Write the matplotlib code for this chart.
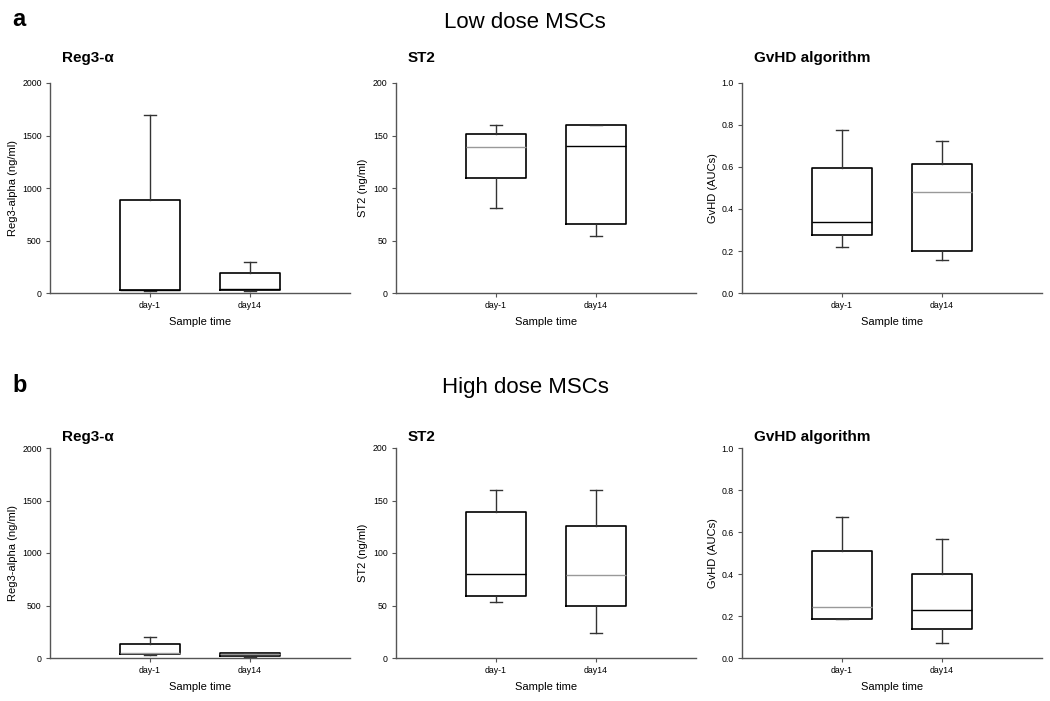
import matplotlib
matplotlib.use("Agg")
import matplotlib.pyplot as plt

plt.rcParams['font.family'] = ['Liberation Sans', 'DejaVu Sans']

categories = ["day-1", "day14"]
panel_titles = ["Reg3-\u03b1", "ST2", "GvHD algorithm"]
y_labels = ["Reg3-alpha (ng/ml)", "ST2 (ng/ml)", "GvHD (AUCs)"]
y_limits = [(0, 2000), (0, 200), (0, 1.0)]
y_ticks = [[0, 500, 1000, 1500, 2000], [0, 50, 100, 150, 200], [0.0, 0.2, 0.4, 0.6, 0.8, 1.0]]
y_ticklabels = [["0", "500", "1000", "1500", "2000"], ["0", "50", "100", "150", "200"],
                ["0.0", "0.2", "0.4", "0.6", "0.8", "1.0"]]
row_titles = ["Low dose MSCs", "High dose MSCs"]
row_letters = ["a", "b"]

# box statistics per category: [whislo, q1, med, q3, whishi]
low_reg3 = [[20, 25, 30, 890, 1700], [20, 30, 35, 190, 297]]
low_st2 = [[81, 110, 139, 151, 160], [54, 66, 140, 160, 160]]
low_gvhd = [[0.217, 0.275, 0.338, 0.594, 0.778], [0.157, 0.198, 0.479, 0.614, 0.725]]
high_reg3 = [[30, 38, 45, 133, 203], [10, 15, 35, 45, 50]]
high_st2 = [[53, 59, 80, 139, 160], [24, 50, 79, 126, 160]]
high_gvhd = [[0.184, 0.187, 0.244, 0.510, 0.672], [0.070, 0.136, 0.228, 0.398, 0.569]]

data = [[low_reg3, low_st2, low_gvhd], [high_reg3, high_st2, high_gvhd]]
median_colors = [[["black", "black"], ["#999999", "black"], ["black", "#999999"]],
                 [["#999999", "#999999"], ["black", "#999999"], ["#999999", "black"]]]

fig = plt.figure(figsize=(10.5, 7.01), dpi=100)

W, H = 1050.0, 701.0
lefts = [50, 396, 742]
tops = [83, 448]
bottoms = [293, 658]
title_y = [58, 437]
ylabel_x = [-0.107, -0.093, -0.08]
axw = 300

spine_col = "#555555"
for r in range(2):
    for c in range(3):
        ax = fig.add_axes([lefts[c] / W, 1 - bottoms[r] / H, axw / W, (bottoms[r] - tops[r]) / H])
        stats = []
        for i, s in enumerate(data[r][c]):
            stats.append(dict(whislo=s[0], q1=s[1], med=s[2], q3=s[3], whishi=s[4], label=categories[i]))
        bp = ax.bxp(stats, positions=[1, 2], widths=0.6, showfliers=False, capwidths=0.12,
                    boxprops=dict(color="black", linewidth=1.2),
                    whiskerprops=dict(color="#333333", linewidth=1.0),
                    capprops=dict(color="#333333", linewidth=1.0),
                    medianprops=dict(color="black", linewidth=1.0))
        for i, m in enumerate(bp['medians']):
            m.set_color(median_colors[r][c][i])
        ax.set_xlim(0, 3)
        ax.set_ylim(*y_limits[c])
        ax.set_yticks(y_ticks[c])
        ax.set_yticklabels(y_ticklabels[c])
        ax.set_xticks([1, 2])
        ax.set_xticklabels(categories)
        for sp in ["top", "right"]:
            ax.spines[sp].set_visible(False)
        for sp in ["left", "bottom"]:
            ax.spines[sp].set_color(spine_col)
            ax.spines[sp].set_linewidth(1.0)
        ax.tick_params(axis="both", labelsize=6.3, length=3, width=0.8, color=spine_col, pad=3)
        ax.set_ylabel(y_labels[c], fontsize=8)
        ax.yaxis.set_label_coords(ylabel_x[c], 0.5)
        ax.set_xlabel("Sample time", fontsize=8, labelpad=5)
        fig.text((lefts[c] + 12) / W, 1 - title_y[r] / H, panel_titles[c], fontsize=11,
                 fontweight="bold", ha="left", va="center")

    ty = 20 if r == 0 else 385
    fig.text(12 / W, 1 - ty / H, row_letters[r], fontsize=17, fontweight="bold", ha="left", va="center")
    fig.text(525 / W, 1 - (ty + 2) / H, row_titles[r], fontsize=16, ha="center", va="center")

fig.savefig("out.png", dpi=100)
